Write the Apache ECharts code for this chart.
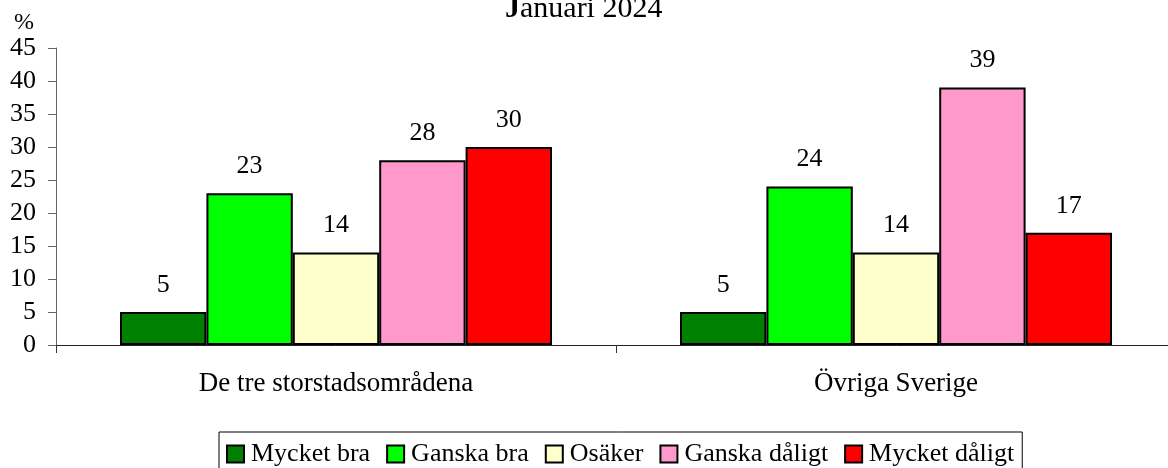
<!DOCTYPE html>
<html>
<head>
<meta charset="utf-8">
<script src="https://cdn.jsdelivr.net/npm/echarts@6/dist/echarts.min.js"></script>
<style>
  html, body { margin: 0; padding: 0; background: #fff; overflow: hidden; }
  #chart { width: 1176px; height: 468px; }
</style>
</head>
<body>
<div id="chart"></div>
<script>
const categories = ['De tre storstadsområdena', 'Övriga Sverige']
const seriesNames = ['Mycket bra', 'Ganska bra', 'Osäker', 'Ganska dåligt', 'Mycket dåligt']
const mycketBra = [5, 5]
const ganskaBra = [23, 24]
const osaker = [14, 14]
const ganskaDaligt = [28, 39]
const mycketDaligt = [30, 17]
const colors = ['#008000', '#00ff00', '#ffffcc', '#ff99cc', '#ff0000']

const font = '"Liberation Serif", "DejaVu Serif", serif'
const values = [mycketBra, ganskaBra, osaker, ganskaDaligt, mycketDaligt]

// the x axis runs a little past the right edge of the window, as in the original
const chart = echarts.init(document.getElementById('chart'))
chart.setOption({
  animation: false,
  color: colors,
  title: {
    text: '{b|J}anuari 2024',
    left: 500,
    top: -11,
    textStyle: {
      fontFamily: font,
      fontSize: 30,
      fontWeight: 'normal',
      color: '#000',
      rich: {
        b: { fontFamily: font, fontSize: 30, fontWeight: 'bold', color: '#000' }
      }
    }
  },
  grid: {
    left: 56,
    right: 0,
    top: 48,
    height: 297
  },
  legend: {
    left: 219,
    top: 432,
    itemWidth: 17,
    itemHeight: 17,
    itemGap: 16,
    padding: [9, 8, 10, 7],
    borderColor: '#000',
    borderWidth: 1,
    icon: 'rect',
    textStyle: { fontFamily: font, fontSize: 26, color: '#000', padding: [0, 0, 0, 2] },
    data: seriesNames
  },
  xAxis: {
    type: 'category',
    data: categories,
    axisLine: { lineStyle: { color: '#222', width: 1 } },
    axisTick: { show: true, length: 8, lineStyle: { color: '#333' } },
    axisLabel: { fontFamily: font, fontSize: 27, color: '#000', margin: 25 }
  },
  yAxis: {
    type: 'value',
    min: 0,
    max: 45,
    interval: 5,
    name: '%',
    nameLocation: 'end',
    nameGap: 10,
    nameTextStyle: { fontFamily: font, fontSize: 24, color: '#000', align: 'right', padding: [0, 22, 0, 0] },
    axisLine: { show: true, lineStyle: { color: '#666', width: 1 } },
    axisTick: { show: true, length: 8, lineStyle: { color: '#666' } },
    splitLine: { show: false },
    axisLabel: { fontFamily: font, fontSize: 26, color: '#000', margin: 20 }
  },
  series: seriesNames.map((name, i) => ({
    name: name,
    type: 'bar',
    data: values[i],
    barGap: '0%',
    barCategoryGap: '22.86%',
    itemStyle: { borderColor: '#000', borderWidth: 2 },
    label: {
      show: true,
      position: 'top',
      distance: 14,
      fontFamily: font,
      fontSize: 26,
      color: '#000'
    }
  }))
})
</script>
</body>
</html>
